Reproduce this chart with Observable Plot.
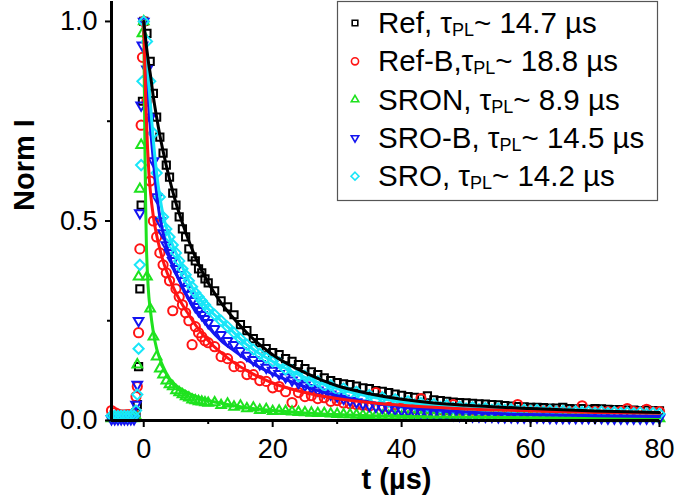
<!DOCTYPE html>
<html>
<head>
<meta charset="utf-8">
<script src="https://cdn.jsdelivr.net/npm/d3@7"></script>
<script src="https://cdn.jsdelivr.net/npm/@observablehq/plot@0.6"></script>
<style>
  html, body { margin: 0; padding: 0; background: #fff; }
  #chart { width: 677px; height: 504px; }
</style>
</head>
<body>
<div id="chart"></div>
<script>
const FONT = '"Liberation Sans", Arial, Helvetica, sans-serif';

// ---- Measured data (time in µs) ----
const tData = [
  -5, -4.5, -4, -3.5, -3, -2.5, -2, -1.5,
  -1.2, -1.0, -0.8, -0.6, -0.4, -0.2,
  0, 0.5, 1, 1.5, 2, 2.5, 3, 3.5, 4, 4.5, 5, 5.5, 6, 6.5, 7, 7.5, 8, 8.5, 9, 9.5, 10,
  11, 12, 13, 14, 15, 16, 17, 18, 19, 20,
  21, 22, 23, 24, 25, 26, 27, 28, 29, 30,
  31, 32, 33, 34, 35, 36, 37, 38, 39, 40,
  41, 42, 43, 44, 45, 46, 47, 48, 49, 50,
  51, 52, 53, 54, 55, 56, 57, 58, 59, 60,
  61, 62, 63, 64, 65, 66, 67, 68, 69, 70,
  71, 72, 73, 74, 75, 76, 77, 78, 79, 80
];

const refI = [
  0.008, 0.008, 0.007, 0.008, 0.008, 0.007, 0.008, 0.009,
  0.02, 0.04, 0.135, 0.33, 0.54, 0.80,
  1.00, 0.97, 0.90, 0.82, 0.76, 0.71, 0.67, 0.64, 0.61, 0.57, 0.54, 0.51, 0.48, 0.46, 0.43, 0.41, 0.40, 0.38, 0.37, 0.355, 0.345,
  0.325, 0.30, 0.285, 0.265, 0.24, 0.225, 0.205, 0.195, 0.18, 0.17,
  0.165, 0.155, 0.148, 0.14, 0.13, 0.122, 0.115, 0.107, 0.10, 0.095,
  0.092, 0.09, 0.086, 0.082, 0.08, 0.075, 0.073, 0.07, 0.066, 0.063,
  0.06, 0.058, 0.056, 0.062, 0.052, 0.05, 0.048, 0.046, 0.045, 0.044,
  0.043, 0.042, 0.041, 0.04, 0.039, 0.037, 0.036, 0.035, 0.034, 0.033,
  0.033, 0.032, 0.031, 0.031, 0.033, 0.03, 0.029, 0.03, 0.028, 0.03,
  0.029, 0.028, 0.027, 0.027, 0.026, 0.026, 0.025, 0.026, 0.025, 0.024
];

const refBI = [
  0.025, 0.02, 0.016, 0.014, 0.014, 0.015, 0.015, 0.016,
  0.06, 0.085, 0.22, 0.43, 0.74, 0.91,
  1.00, 0.80, 0.60, 0.50, 0.46, 0.42, 0.39, 0.37, 0.35, 0.275, 0.33, 0.31, 0.29, 0.27, 0.25, 0.19, 0.235, 0.22, 0.21, 0.20, 0.195,
  0.185, 0.16, 0.155, 0.135, 0.135, 0.115, 0.115, 0.10, 0.098, 0.082,
  0.085, 0.072, 0.045, 0.07, 0.06, 0.062, 0.055, 0.057, 0.048, 0.05,
  0.044, 0.042, 0.04, 0.038, 0.036, 0.07, 0.035, 0.033, 0.04, 0.032,
  0.031, 0.03, 0.055, 0.029, 0.03, 0.028, 0.027, 0.04, 0.026, 0.027,
  0.026, 0.025, 0.026, 0.024, 0.025, 0.024, 0.024, 0.04, 0.023, 0.024,
  0.023, 0.024, 0.023, 0.022, 0.023, 0.022, 0.023, 0.037, 0.022, 0.023,
  0.022, 0.022, 0.021, 0.023, 0.03, 0.022, 0.021, 0.028, 0.021, 0.022
];

const sronI = [
  0.005, 0.005, 0.005, 0.005, 0.005, 0.005, 0.005, 0.005,
  0.01, 0.14, 0.36, 0.58, 0.69, 0.97,
  1.00, 0.36, 0.28, 0.21, 0.16, 0.13, 0.115, 0.10, 0.09, 0.085, 0.075, 0.07, 0.065, 0.06, 0.057, 0.052, 0.05, 0.048, 0.047, 0.045, 0.044,
  0.045, 0.038, 0.042, 0.034, 0.037, 0.03, 0.032, 0.026, 0.028, 0.023,
  0.024, 0.023, 0.022, 0.021, 0.02, 0.019, 0.018, 0.018, 0.017, 0.016,
  0.015, 0.015, 0.014, 0.013, 0.013, 0.012, 0.012, 0.011, 0.011, 0.01,
  0.01, 0.01, 0.009, 0.009, 0.009, 0.009, 0.008, 0.008, 0.008, 0.008,
  0.008, 0.007, 0.007, 0.007, 0.007, 0.007, 0.007, 0.006, 0.006, 0.006,
  0.006, 0.006, 0.006, 0.006, 0.006, 0.006, 0.006, 0.006, 0.006, 0.006,
  0.006, 0.005, 0.006, 0.005, 0.006, 0.005, 0.005, 0.006, 0.005, 0.005
];

const sroBI = [
  0.004, 0.004, 0.004, 0.004, 0.004, 0.004, 0.004, 0.004,
  0.04, 0.09, 0.25, 0.52, 0.79, 0.94,
  1.00, 0.88, 0.76, 0.65, 0.56, 0.50, 0.47, 0.44, 0.42, 0.40, 0.38, 0.365, 0.35, 0.33, 0.315, 0.30, 0.285, 0.275, 0.265, 0.255, 0.245,
  0.23, 0.215, 0.20, 0.19, 0.175, 0.163, 0.152, 0.142, 0.133, 0.125,
  0.117, 0.109, 0.101, 0.094, 0.088, 0.082, 0.076, 0.071, 0.066, 0.061,
  0.055, 0.05, 0.046, 0.042, 0.038, 0.035, 0.032, 0.03, 0.028, 0.026,
  0.024, 0.022, 0.02, 0.019, 0.018, 0.016, 0.015, 0.014, 0.013, 0.012,
  0.011, 0.011, 0.01, 0.01, 0.009, 0.009, 0.009, 0.008, 0.008, 0.008,
  0.008, 0.008, 0.007, 0.007, 0.007, 0.007, 0.007, 0.007, 0.007, 0.007,
  0.007, 0.006, 0.006, 0.006, 0.006, 0.006, 0.006, 0.006, 0.006, 0.006
];

const sroI = [
  0.012, 0.012, 0.011, 0.012, 0.012, 0.011, 0.012, 0.012,
  0.025, 0.065, 0.18, 0.39, 0.64, 0.85,
  1.00, 0.95, 0.85, 0.72, 0.62, 0.56, 0.51, 0.48, 0.46, 0.44, 0.42, 0.40, 0.38, 0.365, 0.35, 0.335, 0.32, 0.31, 0.30, 0.29, 0.28,
  0.265, 0.25, 0.235, 0.22, 0.205, 0.19, 0.178, 0.167, 0.157, 0.148,
  0.145, 0.128, 0.126, 0.11, 0.112, 0.097, 0.098, 0.086, 0.088, 0.076,
  0.08, 0.068, 0.072, 0.058, 0.064, 0.052, 0.058, 0.047, 0.053, 0.044,
  0.048, 0.04, 0.044, 0.037, 0.041, 0.034, 0.038, 0.032, 0.035, 0.03,
  0.033, 0.028, 0.031, 0.027, 0.03, 0.026, 0.028, 0.025, 0.027, 0.024,
  0.026, 0.023, 0.025, 0.022, 0.024, 0.021, 0.023, 0.021, 0.022, 0.02,
  0.022, 0.019, 0.021, 0.019, 0.02, 0.018, 0.02, 0.017, 0.019, 0.017
];

// ---- Fitted decay curves ----
const tFit = [0, 0.1, 0.2, 0.3, 0.4, 0.6, 0.8, 1, 1.5, 2, 2.5, 3, 4, 5, 6, 7, 8, 10, 12, 14, 16, 18, 20, 25, 30, 35, 40, 45, 50, 60, 70, 80];
const fitRef  = [1.0, 0.985, 0.97, 0.955, 0.94, 0.915, 0.89, 0.87, 0.81, 0.76, 0.715, 0.675, 0.605, 0.545, 0.495, 0.45, 0.41, 0.345, 0.295, 0.255, 0.22, 0.19, 0.165, 0.12, 0.087, 0.067, 0.053, 0.044, 0.038, 0.03, 0.024, 0.02];
const fitRefB = [1.0, 0.93, 0.87, 0.81, 0.76, 0.68, 0.62, 0.58, 0.51, 0.465, 0.43, 0.40, 0.355, 0.32, 0.29, 0.265, 0.24, 0.2, 0.17, 0.145, 0.125, 0.108, 0.094, 0.07, 0.055, 0.045, 0.038, 0.033, 0.029, 0.024, 0.02, 0.018];
const fitSRON = [1.0, 0.82, 0.66, 0.54, 0.45, 0.36, 0.31, 0.28, 0.22, 0.18, 0.155, 0.135, 0.105, 0.088, 0.077, 0.068, 0.061, 0.05, 0.043, 0.037, 0.032, 0.028, 0.025, 0.019, 0.015, 0.012, 0.01, 0.009, 0.008, 0.007, 0.006, 0.006];
const fitSROB = [1.0, 0.97, 0.94, 0.91, 0.88, 0.83, 0.78, 0.74, 0.65, 0.57, 0.51, 0.47, 0.41, 0.37, 0.335, 0.305, 0.28, 0.235, 0.2, 0.175, 0.152, 0.133, 0.117, 0.085, 0.062, 0.046, 0.035, 0.027, 0.021, 0.015, 0.012, 0.01];
const fitSRO  = [1.0, 0.98, 0.96, 0.94, 0.92, 0.88, 0.84, 0.80, 0.70, 0.62, 0.56, 0.515, 0.46, 0.42, 0.385, 0.35, 0.32, 0.28, 0.25, 0.22, 0.19, 0.167, 0.148, 0.108, 0.08, 0.06, 0.047, 0.038, 0.033, 0.026, 0.022, 0.018];

// ---- Labels / ticks ----
const names = ["Ref", "Ref-B", "SRON", "SRO-B", "SRO"];
const separators = [", ", ",", ", ", ", ", ", "];
const taus = ["14.7", "18.8", "8.9", "14.5", "14.2"];
const colors = ["#000000", "#ff1414", "#1ee21e", "#1414f0", "#18e6f8"];
const xMajor = [0, 20, 40, 60, 80];
const xMinor = [10, 30, 50, 70];
const yMajor = [0, 0.5, 1.0];
const yMinor = [0.25, 0.75];

// Downward triangle symbol
const triangleDown = {
  draw(context, size) {
    const k = Math.sqrt(size) * 0.6824, t = k / 2, u = k * Math.sqrt(3) / 2;
    context.moveTo(0, k);
    context.lineTo(-u, -t);
    context.lineTo(u, -t);
    context.closePath();
  }
};
const plotSymbols = ["square2", "circle", "triangle2", triangleDown, "diamond2"];
const d3Symbols = [d3.symbolSquare2, d3.symbolCircle, d3.symbolTriangle2, triangleDown, d3.symbolDiamond2];

const scatter = [refI, refBI, sronI, sroBI, sroI].map(arr => tData.map((t, i) => ({t, v: arr[i]})));
const fits = [fitRef, fitRefB, fitSRON, fitSROB, fitSRO].map(arr => tFit.map((t, i) => ({t, v: arr[i]})));

function legendMark() {
  const g = d3.create("svg:g").attr("text-anchor", "start");
  g.append("rect")
    .attr("x", 337.5).attr("y", 1.5).attr("width", 320).attr("height", 199)
    .attr("fill", "#fff").attr("stroke", "#555").attr("stroke-width", 1.2);
  names.forEach((name, i) => {
    const cy = 23 + i * 38.3;
    g.append("path")
      .attr("transform", `translate(355,${cy})`)
      .attr("d", d3.symbol(d3Symbols[i], 40)())
      .attr("fill", "none").attr("stroke", colors[i]).attr("stroke-width", 1.6);
    const text = g.append("text")
      .attr("x", 378).attr("y", cy + 10)
      .attr("text-anchor", "start")
      .attr("font-size", 29.5).attr("fill", "#000")
      .style("white-space", "pre");
    text.append("tspan").text(name + separators[i] + "τ");
    text.append("tspan").attr("font-size", 18).attr("dy", 3).text("PL");
    text.append("tspan").attr("dy", -3).text("~ " + taus[i] + " µs");
  });
  return g.node();
}

const plot = Plot.plot({
  width: 677,
  height: 504,
  marginLeft: 111,
  marginRight: 18,
  marginTop: 1,
  marginBottom: 84,
  x: {domain: [-5, 80]},
  y: {domain: [0, 1.05]},
  style: {fontFamily: FONT, fontSize: "27px", color: "#000", background: "#fff"},
  marks: [
    ...scatter.map((rows, i) => Plot.dot(rows, {
      x: "t", y: "v", symbol: plotSymbols[i], r: 4.6, stroke: colors[i], strokeWidth: 2, fill: "none"
    })),
    ...[2, 3, 4, 1, 0].map(i => Plot.line(fits[i], {
      x: "t", y: "v", stroke: colors[i], strokeWidth: 3, curve: "monotone-x"
    })),
    Plot.ruleX([-5], {strokeWidth: 3}),
    Plot.ruleY([0], {strokeWidth: 3}),
    Plot.axisX({ticks: xMajor, tickSize: 7, tickPadding: 11, strokeWidth: 2, label: null, tickFormat: d => String(d)}),
    Plot.axisX({ticks: xMinor, tickSize: 4, strokeWidth: 2, label: null, tickFormat: () => ""}),
    Plot.axisY({ticks: yMajor, tickSize: 6, tickPadding: 8, strokeWidth: 2, label: null, tickFormat: d => d.toFixed(1)}),
    Plot.axisY({ticks: yMinor, tickSize: 4, strokeWidth: 2, label: null, tickFormat: () => ""}),
    Plot.text(["t (µs)"], {frameAnchor: "bottom", dx: 11, dy: 68, fontWeight: "bold", fontSize: 29}),
    Plot.text(["Norm I"], {frameAnchor: "left", dx: -87, rotate: -90, fontWeight: "bold", fontSize: 29}),
    legendMark
  ]
});

document.getElementById("chart").appendChild(plot);
</script>
</body>
</html>
